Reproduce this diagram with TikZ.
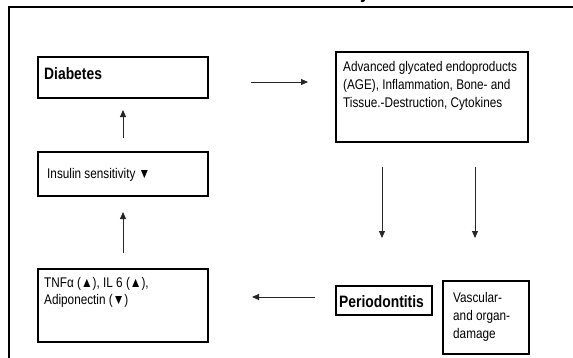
\documentclass[tikz,border=0pt]{standalone}
\usepackage{fontspec}
\setmainfont[FakeStretch=0.84]{Liberation Sans}
\usetikzlibrary{arrows.meta}
\begin{document}
\begin{tikzpicture}[x=1pt,y=-1pt,
  box/.style={draw=black,line width=1.3pt},
  frame/.style={draw=black,line width=2pt},
  txt/.style={inner sep=0pt,align=left,font=\fontsize{14}{18.3}\selectfont},
  btxt/.style={inner sep=0pt,font=\bfseries\fontsize{16.5}{20}\selectfont},
  arr/.style={draw=black!85,line width=0.9pt,-{Triangle[length=7pt,width=6pt]}}]
\useasboundingbox (0,0) rectangle (573,357);
% outer frame (cut off at right and bottom)
\draw[frame] (9,380) -- (9,7) -- (600,7);
% title fragment
\node[btxt,anchor=base west,font=\bfseries\fontsize{20}{22}\selectfont] (titlefrag) at (360,-1.5) {y};
% boxes
\draw[box] (38,57) rectangle (208,98);
\node[btxt,anchor=base west] (diab) at (44,79) {Diabetes};
\draw[box] (38,152) rectangle (208,196);
\node[txt,anchor=base west] (insul) at (47,178) {Insulin sensitivity ▼};
\draw[box] (38,269) rectangle (208,342);
\node[txt,anchor=base west,font=\fontsize{14}{17}\selectfont] (tnf) at (44,304) {TNFα (▲), IL 6 (▲),\\Adiponectin (▼)};
\draw[box] (336,52) rectangle (528,142);
\node[txt,anchor=base west] (age) at (343,107.6) {Advanced glycated endoproducts\\(AGE), Inflammation, Bone- and\\Tissue.-Destruction, Cytokines};
\draw[box] (336,286) rectangle (432,315);
\node[btxt,anchor=base west] (perio) at (339,307) {Periodontitis};
\draw[box] (443,281) rectangle (529,354);
\node[txt,anchor=base west] (vasc) at (453,338.6) {Vascular-\\and organ-\\damage};
% arrows
\coordinate (a1s) at (251,82); \coordinate (a1e) at (308,82);
\coordinate (a2s) at (123,138); \coordinate (a2e) at (123,110);
\coordinate (a3s) at (123,253); \coordinate (a3e) at (123,212);
\coordinate (a4s) at (382,167); \coordinate (a4e) at (382,238);
\coordinate (a5s) at (475,167); \coordinate (a5e) at (475,238);
\coordinate (a6s) at (315,297); \coordinate (a6e) at (252,297);
\draw[arr] (a1s) -- (a1e);
\draw[arr] (a2s) -- (a2e);
\draw[arr] (a3s) -- (a3e);
\draw[arr] (a4s) -- (a4e);
\draw[arr] (a5s) -- (a5e);
\draw[arr] (a6s) -- (a6e);
\end{tikzpicture}
\end{document}
